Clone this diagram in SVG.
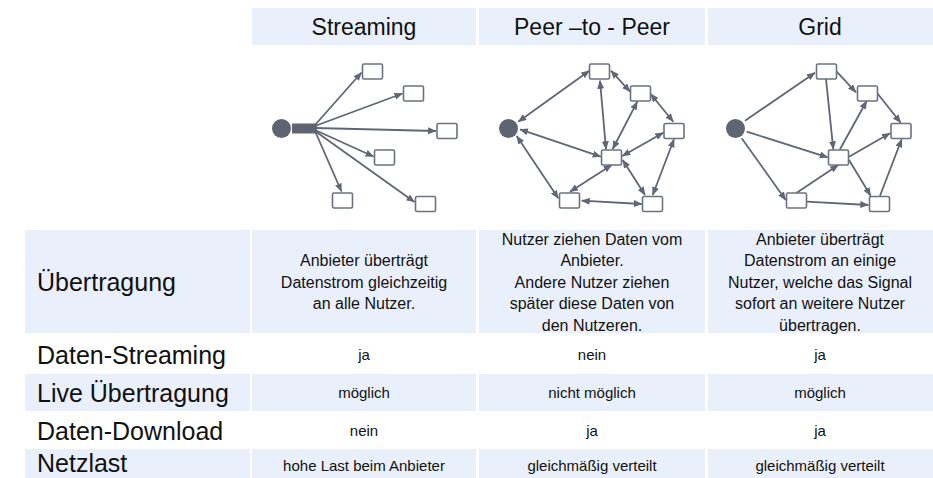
<svg xmlns="http://www.w3.org/2000/svg" width="933" height="478" viewBox="0 0 933 478">
<style>
.bg{fill:#EAF0FB}
.t{font-family:"Liberation Sans",Arial,sans-serif;fill:#111;text-anchor:middle}
.h{font-size:23px}
.lab{font-family:"Liberation Sans",Arial,sans-serif;fill:#111;font-size:25px}
.c{font-size:16px}
.s{font-size:15px}
.box{fill:#fff;stroke:#6B7280;stroke-width:1.6}
.src{fill:#5E6472}
.e{stroke:#5F6675;stroke-width:1.8;fill:none;marker-end:url(#ah)}
.d{marker-start:url(#ah)}
</style>
<defs>
<marker id="ah" markerUnits="userSpaceOnUse" markerWidth="9" markerHeight="7" refX="8" refY="3.5" orient="auto-start-reverse">
<path d="M0,0 L8.5,3.5 L0,7 z" fill="#5F6675"/>
</marker>
</defs>

<g id="table">
<rect class="bg" x="252" y="8" width="224" height="37"/>
<rect class="bg" x="479" y="8" width="226" height="37"/>
<rect class="bg" x="708" y="8" width="225" height="37"/>
<rect class="bg" x="25" y="230" width="225" height="103"/>
<rect class="bg" x="252" y="230" width="224" height="103"/>
<rect class="bg" x="479" y="230" width="226" height="103"/>
<rect class="bg" x="708" y="230" width="225" height="103"/>
<rect class="bg" x="25" y="374" width="225" height="37"/>
<rect class="bg" x="252" y="374" width="224" height="37"/>
<rect class="bg" x="479" y="374" width="226" height="37"/>
<rect class="bg" x="708" y="374" width="225" height="37"/>
<rect class="bg" x="25" y="449" width="225" height="29"/>
<rect class="bg" x="252" y="449" width="224" height="29"/>
<rect class="bg" x="479" y="449" width="226" height="29"/>
<rect class="bg" x="708" y="449" width="225" height="29"/>

<text class="t h" x="364" y="35">Streaming</text>
<text class="t h" x="592" y="35">Peer –to - Peer</text>
<text class="t h" x="820" y="35">Grid</text>

<text class="lab" x="37" y="291">Übertragung</text>
<text class="lab" x="37" y="364">Daten-Streaming</text>
<text class="lab" x="37" y="402">Live Übertragung</text>
<text class="lab" x="37" y="440">Daten-Download</text>
<text class="lab" x="37" y="472">Netzlast</text>

<text class="t c" x="364" y="266">Anbieter überträgt</text>
<text class="t c" x="364" y="287.5">Datenstrom gleichzeitig</text>
<text class="t c" x="364" y="309">an alle Nutzer.</text>

<text class="t c" x="592" y="244.5">Nutzer ziehen Daten vom</text>
<text class="t c" x="592" y="266">Anbieter.</text>
<text class="t c" x="592" y="287.5">Andere Nutzer ziehen</text>
<text class="t c" x="592" y="309">später diese Daten von</text>
<text class="t c" x="592" y="330.5">den Nutzeren.</text>

<text class="t c" x="820" y="244.5">Anbieter überträgt</text>
<text class="t c" x="820" y="266">Datenstrom an einige</text>
<text class="t c" x="820" y="287.5">Nutzer, welche das Signal</text>
<text class="t c" x="820" y="309">sofort an weitere Nutzer</text>
<text class="t c" x="820" y="330.5">übertragen.</text>

<text class="t s" x="364" y="360">ja</text>
<text class="t s" x="592" y="360">nein</text>
<text class="t s" x="820" y="360">ja</text>
<text class="t s" x="364" y="398">möglich</text>
<text class="t s" x="592" y="398">nicht möglich</text>
<text class="t s" x="820" y="398">möglich</text>
<text class="t s" x="364" y="436">nein</text>
<text class="t s" x="592" y="436">ja</text>
<text class="t s" x="820" y="436">ja</text>
<text class="t s" x="364" y="471">hohe Last beim Anbieter</text>
<text class="t s" x="592" y="471">gleichmäßig verteilt</text>
<text class="t s" x="820" y="471">gleichmäßig verteilt</text>
</g>

<g id="connectors">
<!-- Streaming -->
<line class="e" x1="315" y1="125" x2="361.5" y2="72.5"/>
<line class="e" x1="315" y1="126" x2="402.5" y2="93.5"/>
<line class="e" x1="315" y1="128" x2="436" y2="131"/>
<line class="e" x1="315" y1="130" x2="373.5" y2="156.5"/>
<line class="e" x1="315" y1="131" x2="341.5" y2="191.5"/>
<line class="e" x1="315" y1="131" x2="414.5" y2="202"/>
<!-- Peer to Peer -->
<line class="e d" x1="518.3" y1="121.7" x2="589.3" y2="70.7"/>
<line class="e d" x1="520" y1="129.3" x2="600.7" y2="156.7"/>
<line class="e d" x1="516.7" y1="136" x2="558.3" y2="198.3"/>
<line class="e d" x1="611" y1="70.7" x2="630" y2="91.7"/>
<line class="e d" x1="600" y1="80.7" x2="606" y2="149.3"/>
<line class="e d" x1="650.7" y1="94" x2="673.3" y2="121.7"/>
<line class="e d" x1="637.3" y1="101.7" x2="612.7" y2="149"/>
<line class="e d" x1="663.3" y1="132.7" x2="622.3" y2="156"/>
<line class="e d" x1="674" y1="139.3" x2="652.7" y2="195"/>
<line class="e d" x1="622.7" y1="160" x2="645" y2="195"/>
<line class="e d" x1="611.7" y1="165" x2="570" y2="191.7"/>
<line class="e d" x1="581.7" y1="200.7" x2="641.7" y2="204"/>
<!-- Grid -->
<line class="e" x1="745" y1="120.7" x2="815" y2="72.7"/>
<line class="e" x1="746.7" y1="131.7" x2="827.7" y2="157.3"/>
<line class="e" x1="741.7" y1="138.3" x2="785.7" y2="200"/>
<line class="e" x1="836.7" y1="71.7" x2="856" y2="92.3"/>
<line class="e" x1="826" y1="79" x2="833.3" y2="149.3"/>
<line class="e" x1="877.3" y1="93.3" x2="900.7" y2="122.7"/>
<line class="e" x1="840" y1="149.3" x2="866.7" y2="101"/>
<line class="e" x1="849" y1="156.7" x2="890" y2="133.3"/>
<line class="e" x1="849" y1="160" x2="870.7" y2="195.7"/>
<line class="e" x1="796.7" y1="192.7" x2="838.3" y2="165"/>
<line class="e" x1="806.7" y1="201.7" x2="868.3" y2="205"/>
<line class="e" x1="880" y1="195.7" x2="901.7" y2="139.3"/>
</g>

<g id="s-source"><circle class="src" cx="281.5" cy="128.5" r="9.5"/><rect class="src" x="292" y="123.5" width="25" height="10"/></g>
<g id="s-a"><rect class="box" x="362.5" y="64" width="20" height="15" rx="1.5"/></g>
<g id="s-b"><rect class="box" x="403.5" y="86" width="20" height="15" rx="1.5"/></g>
<g id="s-c"><rect class="box" x="437" y="123.5" width="20" height="15" rx="1.5"/></g>
<g id="s-d"><rect class="box" x="374.5" y="150" width="20" height="15" rx="1.5"/></g>
<g id="s-e"><rect class="box" x="332.5" y="193" width="20" height="15" rx="1.5"/></g>
<g id="s-f"><rect class="box" x="415.5" y="196.5" width="20" height="15" rx="1.5"/></g>

<g id="p-source"><circle class="src" cx="508.5" cy="128.5" r="9.5"/></g>
<g id="p-a"><rect class="box" x="589.5" y="64" width="20" height="15" rx="1.5"/></g>
<g id="p-b"><rect class="box" x="630.5" y="86" width="20" height="15" rx="1.5"/></g>
<g id="p-c"><rect class="box" x="664" y="123.5" width="20" height="15" rx="1.5"/></g>
<g id="p-d"><rect class="box" x="601.5" y="150" width="20" height="15" rx="1.5"/></g>
<g id="p-e"><rect class="box" x="559.5" y="193" width="20" height="15" rx="1.5"/></g>
<g id="p-f"><rect class="box" x="642.5" y="196.5" width="20" height="15" rx="1.5"/></g>

<g id="g-source"><circle class="src" cx="735.5" cy="128.5" r="9.5"/></g>
<g id="g-a"><rect class="box" x="816.5" y="64" width="20" height="15" rx="1.5"/></g>
<g id="g-b"><rect class="box" x="857.5" y="86" width="20" height="15" rx="1.5"/></g>
<g id="g-c"><rect class="box" x="891" y="123.5" width="20" height="15" rx="1.5"/></g>
<g id="g-d"><rect class="box" x="828.5" y="150" width="20" height="15" rx="1.5"/></g>
<g id="g-e"><rect class="box" x="786.5" y="193" width="20" height="15" rx="1.5"/></g>
<g id="g-f"><rect class="box" x="869.5" y="196.5" width="20" height="15" rx="1.5"/></g>
</svg>
